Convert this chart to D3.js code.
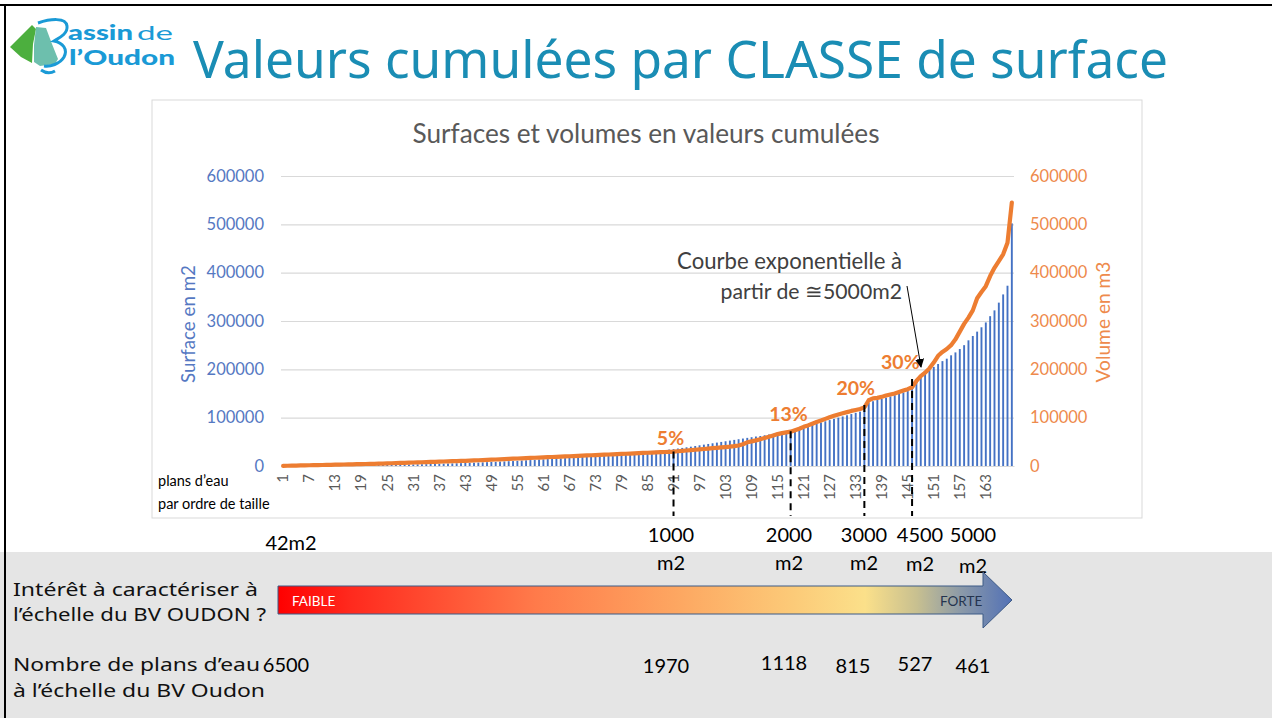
<!DOCTYPE html>
<html><head><meta charset="utf-8">
<script src="https://cdn.jsdelivr.net/npm/d3@7"></script>
<style>body{margin:0;background:#fff;overflow:hidden} svg{display:block}</style>
</head><body>
<svg id="c" width="1272" height="718"></svg>
<script>
// ---------------- DATA ----------------
const categories = d3.range(1, 170);
const categoryTickLabels = [1,7,13,19,25,31,37,43,49,55,61,67,73,79,85,91,97,103,109,115,121,127,133,139,145,151,157,163];
const yTicks = [0,100000,200000,300000,400000,500000,600000];

// cumulative surface (bars, m2)
const surface = [
 100,150,200,260,320,380,450,520,600,680,
 760,850,940,1030,1120,1220,1320,1430,1540,1650,
 1770,1900,2030,2170,2310,2460,2610,2770,2940,3110,
 3290,3480,3680,3890,4110,4340,4580,4830,5090,5360,
 5600,5900,6200,6500,6800,7100,7500,7900,8300,8700,
 9100,9500,9900,10300,10800,11300,11800,12300,12800,13300,
 13800,14300,14800,15300,15800,16400,17000,17600,18200,18800,
 19400,20000,20700,21400,22100,22800,23500,24200,24900,25600,
 26400,27200,28000,28800,29600,30400,31300,32200,33100,34000,
 35000,36200,37400,38700,40000,41400,42800,44200,45600,47000,
 48400,49800,51200,52600,54000,55400,56800,58200,59600,61000,
 62000,63600,65200,66800,68400,70000,71800,73600,75400,77400,
 80000,82500,85000,87500,90000,92500,95000,97500,100000,102500,
 105000,107500,110000,112500,115000,131000,134000,136500,139000,141500,
 144000,146500,149000,152000,155000,168000,180000,186000,192000,198000,
 205000,211000,217000,222000,229000,235000,242000,250000,260000,269000,
 278000,287000,297000,310000,322000,338000,355000,373000,502000
];
// cumulative volume (line, m3)
const volume = [
 300,500,700,900,1100,1300,1500,1700,1900,2100,
 2300,2500,2700,2900,3100,3300,3500,3700,3900,4100,
 4300,4500,4800,5100,5400,5700,6000,6300,6600,6900,
 7200,7500,7800,8100,8400,8700,9000,9300,9600,9900,
 10200,10500,10800,11100,11500,11900,12300,12700,13100,13500,
 13900,14300,14700,15100,15500,15900,16300,16700,17100,17500,
 17800,18200,18600,19000,19400,19800,20200,20600,21000,21400,
 21800,22200,22600,23000,23400,23800,24200,24600,25000,25400,
 25800,26200,26600,27000,27400,27800,28200,28600,29000,29400,
 29800,30500,31200,32000,32800,33600,34400,35200,36000,36800,
 37600,38400,39200,40000,41000,42500,45000,49000,51000,53000,
 55500,58000,60500,63000,66000,68000,69500,71000,74000,77000,
 81000,84000,87500,91000,94000,97500,101000,104000,106500,109000,
 111500,114000,116000,118000,121000,136000,140000,141000,143000,146000,
 148000,150000,153000,156000,159000,163000,176000,186000,193000,202000,
 214000,228000,236000,242000,250000,262000,278000,294000,307000,322000,
 347000,360000,372000,393000,410000,424000,438000,462000,545000
];

// class thresholds (dashed markers)
const markerCats = [91, 118, 135, 146];
const markerTopValues = [30000, 72000, 126000, 180000];
const pctLabels = ["5%", "13%", "20%", "30%"];
const pctCats = [90.3, 117.5, 133, 143.3];
const pctValues = [60000, 108000, 162000, 216000];

const classLabels = ["1000", "2000", "3000", "4500", "5000"];
const classX = [671, 789, 864, 920, 973];
const countLabels = ["6500", "1970", "1118", "815", "527", "461"];
const countX = [286, 666, 784, 853, 915, 973];
const countY = [665, 666, 663, 666, 664, 666];

// ---------------- DRAW ----------------
const svg = d3.select('#c');
const FC = "Lato, 'Open Sans', sans-serif";
const FP = "'Noto Sans', 'Open Sans', sans-serif";
function fit(sel, w) {
  const fs = parseFloat(sel.attr('font-size'));
  const l = sel.node().getComputedTextLength();
  sel.attr('font-size', (fs * w / l).toFixed(2));
  return sel;
}

svg.append('rect').attr('width', 1272).attr('height', 718).attr('fill', '#fff');
svg.append('rect').attr('x', 0).attr('y', 552).attr('width', 1272).attr('height', 166).attr('fill', '#e5e5e5');

// logo
const logo = svg.append('g');
logo.append('path').attr('d', 'M10,47 L32,25 L36,29 L33,44 L32,63 L21,57 Z').attr('fill', '#4caf3e');
logo.append('path').attr('d', 'M36,27 L46,28 L52,44 L58,59 L55,64 L40,66 L34,62 L34,45 Z').attr('fill', '#6dbfad');
logo.append('path').attr('d', 'M41,70 Q48,75 55,71').attr('stroke', '#1a9ad6').attr('stroke-width', 3).attr('fill', 'none');
logo.append('path').attr('d', 'M38,23 C50,19 66,17 67,26 C68,34 59,38 54,41 C63,43 68,49 64,57 C60,64 50,67 44,66')
  .attr('stroke', '#1a9ad6').attr('stroke-width', 3).attr('fill', 'none');
logo.append('text').attr('x', 68).attr('y', 40).attr('font-family', FC).attr('font-weight', 900)
  .attr('font-size', 20).attr('textLength', 65).attr('lengthAdjust', 'spacingAndGlyphs').attr('fill', '#1a9ad6').text('assin');
logo.append('text').attr('x', 137).attr('y', 40).attr('font-family', FC).attr('font-weight', 400)
  .attr('font-size', 20).attr('textLength', 36).attr('lengthAdjust', 'spacingAndGlyphs').attr('fill', '#1a9ad6').text('de');
logo.append('text').attr('x', 69).attr('y', 64.5).attr('font-family', FC).attr('font-weight', 900)
  .attr('font-size', 20).attr('textLength', 106).attr('lengthAdjust', 'spacingAndGlyphs').attr('fill', '#1a9ad6').text('l’Oudon');

// slide title
fit(svg.append('text').attr('x', 193).attr('y', 78).attr('font-family', FP).attr('font-size', 46)
  .attr('fill', '#1a8db4').text('Valeurs cumulées par CLASSE de surface'), 975);

// chart box
svg.append('rect').attr('x', 152).attr('y', 100).attr('width', 990).attr('height', 418)
  .attr('fill', '#fff').attr('stroke', '#d9d9d9');

fit(svg.append('text').attr('x', 646).attr('y', 143).attr('text-anchor', 'middle').attr('font-family', FC)
  .attr('font-size', 22).attr('fill', '#595959').text('Surfaces et volumes en valeurs cumulées'), 467);

const x = d3.scaleBand().domain(categories).range([281, 1014]).paddingInner(0).paddingOuter(0);
const bw = x.bandwidth();
const yL = d3.scaleLinear().domain([0, 600000]).range([466, 176]);
const yR = d3.scaleLinear().domain([0, 600000]).range([466, 176]);
const xPos = c => x.range()[0] + (c - 0.5) * bw;

// grid
svg.append('g').attr('transform', 'translate(281,0)')
  .call(d3.axisLeft(yL).tickValues(yTicks).tickSize(-733).tickFormat(''))
  .call(g => g.select('.domain').remove())
  .selectAll('line').attr('stroke', '#d9d9d9').attr('stroke-width', 1.2);

// left axis
svg.append('g').attr('transform', 'translate(264,0)')
  .call(d3.axisLeft(yL).tickValues(yTicks).tickSize(0).tickPadding(0).tickFormat(d3.format('d')))
  .call(g => g.select('.domain').remove())
  .selectAll('text').attr('font-family', FC).attr('font-size', 16.5).attr('fill', '#5578c2');
// right axis
svg.append('g').attr('transform', 'translate(1030,0)')
  .call(d3.axisRight(yR).tickValues(yTicks).tickSize(0).tickPadding(0).tickFormat(d3.format('d')))
  .call(g => g.select('.domain').remove())
  .selectAll('text').attr('font-family', FC).attr('font-size', 16.5).attr('fill', '#ee8a4c');

// axis titles
fit(svg.append('text').attr('transform', 'translate(195,324) rotate(-90)').attr('text-anchor', 'middle')
  .attr('font-family', FC).attr('font-size', 16).attr('fill', '#5578c2').text('Surface en m2'), 118);
fit(svg.append('text').attr('transform', 'translate(1110,322) rotate(-90)').attr('text-anchor', 'middle')
  .attr('font-family', FC).attr('font-size', 16).attr('fill', '#ee8a4c').text('Volume en m3'), 121);

// bars
const barW = 1.9;
svg.append('g').selectAll('rect').data(categories).join('rect')
  .attr('x', (c) => x(c) + (bw - barW) / 2)
  .attr('width', barW)
  .attr('y', (c, i) => yL(surface[i]))
  .attr('height', (c, i) => yL(0) - yL(surface[i]))
  .attr('fill', '#4472c4');

// category axis
svg.append('g').attr('transform', 'translate(0,466)')
  .call(d3.axisBottom(x).tickValues(categoryTickLabels).tickSize(0))
  .call(g => g.select('.domain').attr('stroke', '#d9d9d9'))
  .selectAll('text').attr('transform', 'rotate(-90)').attr('text-anchor', 'end')
  .attr('x', -8).attr('y', 0).attr('dy', '0.35em')
  .attr('font-family', FC).attr('font-size', 15).attr('fill', '#595959');

// volume line
svg.append('path').datum(categories)
  .attr('d', d3.line().x(c => x(c) + bw / 2).y((c, i) => yR(volume[i])))
  .attr('fill', 'none').attr('stroke', '#ed7d31').attr('stroke-width', 4.2)
  .attr('stroke-linejoin', 'round').attr('stroke-linecap', 'round');

// dashed class markers
svg.append('g').selectAll('line').data(markerCats).join('line')
  .attr('x1', c => x(c) + bw / 2).attr('x2', c => x(c) + bw / 2)
  .attr('y1', (c, i) => yR(markerTopValues[i])).attr('y2', 516)
  .attr('stroke', '#000').attr('stroke-width', 2).attr('stroke-dasharray', '7,5');

// percentage labels
svg.append('g').selectAll('text').data(pctLabels).join('text')
  .attr('x', (d, i) => xPos(pctCats[i])).attr('y', (d, i) => yR(pctValues[i]))
  .attr('text-anchor', 'middle').attr('dominant-baseline', 'central')
  .attr('font-family', FC).attr('font-weight', 700).attr('font-size', 19.5).attr('fill', '#ed7d31')
  .text(d => d);

// annotation
fit(svg.append('text').attr('x', 902).attr('y', 269).attr('text-anchor', 'end').attr('font-family', FC)
  .attr('font-size', 19.5).attr('fill', '#404040').text('Courbe exponentielle à'), 225);
fit(svg.append('text').attr('x', 902).attr('y', 299).attr('text-anchor', 'end').attr('font-family', FC)
  .attr('font-size', 19.5).attr('fill', '#404040').text('partir de ≅5000m2'), 182);
const defs = svg.append('defs');
defs.append('marker').attr('id', 'ah').attr('viewBox', '0 0 10 10').attr('refX', 9).attr('refY', 5)
  .attr('markerWidth', 9).attr('markerHeight', 9).attr('orient', 'auto-start-reverse')
  .append('path').attr('d', 'M0,0 L10,5 L0,10 Z').attr('fill', '#000');
svg.append('line').attr('x1', 907).attr('y1', 286).attr('x2', 921).attr('y2', 367)
  .attr('stroke', '#000').attr('stroke-width', 1).attr('marker-end', 'url(#ah)');

// plans d'eau label
svg.append('text').attr('x', 158).attr('y', 486).attr('font-family', FC).attr('font-size', 14.5).attr('fill', '#000').text('plans d’eau');
svg.append('text').attr('x', 158).attr('y', 509).attr('font-family', FC).attr('font-size', 14.5).attr('fill', '#000').text('par ordre de taille');

// class labels
svg.append('text').attr('x', 291).attr('y', 550).attr('text-anchor', 'middle').attr('font-family', FC)
  .attr('font-size', 20).attr('fill', '#000').text('42m2');
const cl = svg.append('g');
classLabels.forEach((t, i) => {
  cl.append('text').attr('x', classX[i]).attr('y', 542).attr('text-anchor', 'middle').attr('font-family', FC)
    .attr('font-size', 20).attr('fill', '#000').text(t);
  cl.append('text').attr('x', classX[i]).attr('y', i === 4 ? 573 : (i === 3 ? 571 : 570)).attr('text-anchor', 'middle').attr('font-family', FC)
    .attr('font-size', 20).attr('fill', '#000').text('m2');
});

// gradient arrow
const grad = defs.append('linearGradient').attr('id', 'gr').attr('gradientUnits', 'userSpaceOnUse')
  .attr('x1', 278).attr('x2', 1012).attr('y1', 0).attr('y2', 0);
[[0, '#ff0000'], [0.1, '#ff2a1e'], [0.35, '#ff7a4a'], [0.55, '#fda862'], [0.7, '#fcca78'],
 [0.8, '#fbe08a'], [0.87, '#c8c090'], [0.93, '#8c9aa8'], [1, '#5271b6']]
  .forEach(s => grad.append('stop').attr('offset', s[0]).attr('stop-color', s[1]));
svg.append('path').attr('d', 'M278,586 L983,586 L983,572 L1012,600 L983,628 L983,614 L278,614 Z')
  .attr('fill', 'url(#gr)').attr('stroke', '#3d5a86').attr('stroke-width', 1);
svg.append('text').attr('x', 292).attr('y', 601).attr('dominant-baseline', 'central').attr('font-family', FC)
  .attr('font-size', 13.5).attr('fill', '#fff').text('FAIBLE');
svg.append('text').attr('x', 940).attr('y', 601).attr('dominant-baseline', 'central').attr('font-family', FC)
  .attr('font-size', 13.5).attr('fill', '#24344f').text('FORTE');

// left texts
const leftTexts = [['Intérêt à caractériser à', 596, 245], ['l’échelle du BV OUDON ?', 621, 253],
                   ['Nombre de plans d’eau', 671, 247], ['à l’échelle du BV Oudon', 697, 252]];
leftTexts.forEach(t => {
  svg.append('text').attr('x', 13).attr('y', t[1]).attr('font-family', FP).attr('font-size', 18)
    .attr('textLength', t[2]).attr('lengthAdjust', 'spacingAndGlyphs').attr('fill', '#111').text(t[0]);
});

// counts
countLabels.forEach((t, i) => {
  svg.append('text').attr('x', countX[i]).attr('y', countY[i] + 7).attr('text-anchor', 'middle')
    .attr('font-family', FC).attr('font-size', 20).attr('fill', '#000').text(t);
});

// slide border
svg.append('line').attr('x1', 0).attr('x2', 1272).attr('y1', 5).attr('y2', 5).attr('stroke', '#000').attr('stroke-width', 2);
svg.append('line').attr('x1', 5).attr('x2', 5).attr('y1', 5).attr('y2', 718).attr('stroke', '#000').attr('stroke-width', 2);
</script>
</body></html>
